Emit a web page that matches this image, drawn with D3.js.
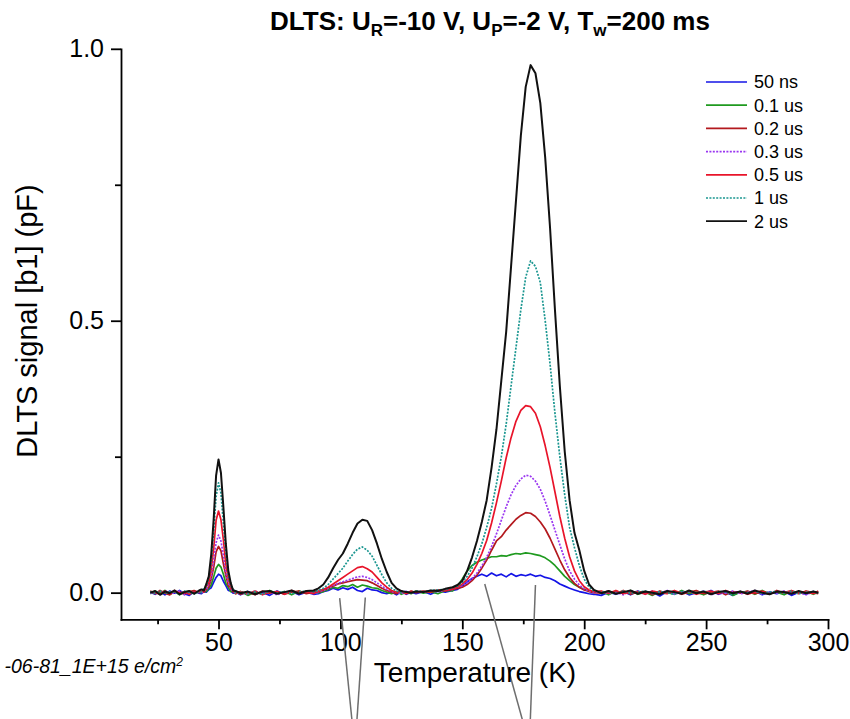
<!DOCTYPE html>
<html>
<head>
<meta charset="utf-8">
<script src="https://cdn.jsdelivr.net/npm/d3@7"></script>
<style>
  body { margin: 0; background: #fff; }
  svg { display: block; font-family: Arial, "Liberation Sans", sans-serif; }
  .axis path, .axis line { stroke: #000; stroke-width: 1.8; }
  .axis text { font-size: 25px; fill: #000; }
</style>
</head>
<body>
<div id="chart"></div>
<script>
// DLTS spectra for different filling pulse widths

const temps = [22,24,26,28,30,32,34,36,38,40,42,
  43,44,45,46,47,48,49,50,51,52,53,54,55,56,57,
  59,62,65,68,71,74,77,80,83,86,89,
  91,93,95,97,99,101,103,105,107,109,111,113,115,117,119,121,123,125,127,129,131,
  134,137,140,143,146,
  148,150,152,154,156,158,160,162,164,166,168,170,172,174,176,178,180,182,184,186,188,190,192,194,196,198,200,202,204,
  207,210,213,216,219,222,225,228,231,234,237,240,243,246,249,252,255,258,261,264,267,270,273,276,279,282,285,288,291,294,296];

const s50ns = [.001,-.003,.002,-.004,.003,-.001,.004,-.002,-.005,.002,-.001,
  -.002,.002,.001,.006,.009,.019,.028,.034,.031,.021,.013,.004,.003,-.001,.001,
  -.004,.002,-.003,.001,-.005,.003,-.002,.002,-.004,.001,-.003,
  -.002,.002,.004,.008,.005,.009,.006,.01,.004,.002,.008,.005,.004,.0,-.002,.001,-.004,.002,-.003,.001,-.002,
  .002,-.003,.003,.001,.004,
  .006,.012,.02,.026,.03,.034,.03,.036,.031,.034,.029,.035,.03,.033,.031,.034,.03,.032,.028,.026,.022,.016,.012,.008,.005,.002,.0,-.002,-.003,
  -.005,.001,-.003,.002,-.004,.003,-.002,.001,-.006,.002,-.001,.003,-.004,.0,-.002,.004,-.003,.001,-.005,.002,-.001,.003,-.004,.001,-.002,.002,-.005,.001,-.003,.002,-.001];

const s01us = [-.002,.003,-.001,.004,-.003,.002,-.004,.001,.003,-.002,.002,
  .0,.003,.002,.008,.014,.029,.045,.052,.047,.034,.017,.01,.002,.003,-.002,
  .002,-.005,.001,-.003,.004,-.002,.002,-.004,.003,-.001,.002,
  .0,.002,.006,.01,.008,.013,.011,.015,.01,.014,.012,.009,.008,.004,.001,-.002,.002,-.003,.001,-.002,.003,
  -.001,.002,-.002,.004,.003,
  .012,.025,.04,.05,.056,.06,.063,.066,.066,.068,.067,.07,.072,.071,.073,.072,.07,.068,.064,.058,.05,.04,.03,.022,.015,.01,.006,.003,.001,
  .002,-.004,.003,-.001,.004,-.003,.001,-.005,.002,.0,-.003,.004,-.002,.001,-.004,.002,-.001,.003,-.005,.001,.002,-.003,.004,-.002,.001,-.004,.003,-.001,.002,-.003,.001];

const s02us = [.003,-.002,.004,-.001,-.004,.002,.001,-.003,.002,.004,.0,
  .002,.001,.006,.01,.025,.046,.075,.085,.077,.053,.032,.013,.007,.001,.002,
  -.003,.001,-.004,.003,-.001,.002,-.003,.001,.003,-.002,.001,
  .001,.004,.008,.012,.016,.018,.02,.022,.024,.023,.022,.018,.013,.008,.004,.001,-.002,.002,-.001,.003,.0,
  .002,.001,.004,.003,.006,
  .008,.01,.015,.022,.032,.045,.06,.078,.095,.103,.115,.125,.135,.142,.147,.146,.14,.13,.117,.1,.08,.06,.042,.028,.017,.01,.005,.002,.0,
  -.001,.003,-.002,.004,-.003,.001,.002,-.004,.003,-.001,.002,-.003,.001,.004,-.002,.0,.003,-.004,.002,-.001,.003,-.002,.001,-.003,.004,-.001,.002,-.002,.003,.0,-.002];

const s03us = [-.001,.002,-.003,.003,.001,-.002,.003,-.004,.001,-.001,.003,
  -.001,.004,.005,.015,.029,.059,.092,.106,.095,.069,.037,.019,.006,.004,-.001,
  .001,-.003,.003,-.002,.002,-.004,.001,.003,-.002,.002,-.001,
  .002,.004,.008,.013,.017,.02,.023,.026,.029,.03,.028,.024,.018,.012,.006,.002,.001,-.002,.003,-.001,.002,
  .001,.003,.002,.005,.006,
  .01,.013,.018,.026,.036,.049,.065,.085,.108,.133,.158,.18,.197,.209,.216,.214,.205,.19,.168,.142,.115,.088,.062,.04,.025,.014,.007,.003,.001,
  .002,-.002,.001,-.004,.003,.0,-.002,.003,-.001,.004,-.003,.001,.002,-.002,.003,-.004,.001,-.001,.003,-.002,.0,.004,-.003,.002,-.001,.003,-.002,.001,-.004,.002,.001];

const s05us = [.002,.0,-.003,.003,-.002,.004,-.001,.002,-.003,.001,.002,
  .003,.002,.011,.018,.043,.081,.133,.15,.134,.097,.052,.027,.009,.006,-.002,
  .002,-.002,.003,-.004,.001,.002,-.003,.004,-.001,.002,-.002,
  .003,.006,.01,.016,.022,.028,.034,.04,.046,.048,.044,.038,.028,.018,.01,.004,.001,.003,-.002,.002,.001,
  .003,.002,.005,.004,.007,
  .01,.016,.024,.036,.052,.072,.096,.128,.165,.205,.248,.285,.315,.335,.344,.342,.33,.305,.27,.23,.185,.14,.1,.066,.04,.022,.011,.005,.002,
  .003,-.001,.004,-.002,.001,.002,-.003,.003,.0,-.002,.004,-.001,.002,-.003,.001,.003,-.002,.004,-.001,.002,-.003,.001,.003,-.002,.002,.0,.004,-.001,.002,-.002,.003];

const s1us = [.002,-.001,.003,-.002,.002,.001,-.003,.003,.0,-.002,.002,
  .001,.008,.011,.028,.055,.112,.176,.202,.183,.127,.074,.033,.012,.007,-.001,
  .001,-.002,.002,-.003,.003,-.001,.002,-.002,.001,.003,.002,
  .004,.008,.015,.025,.035,.045,.058,.07,.08,.084,.078,.067,.05,.033,.018,.008,.003,.001,.002,-.001,.003,
  .002,.004,.005,.006,.009,
  .012,.019,.03,.045,.066,.09,.12,.155,.2,.25,.31,.38,.45,.52,.58,.61,.6,.57,.5,.42,.33,.25,.18,.12,.083,.05,.025,.01,.003,
  .001,.002,-.002,.003,-.001,.001,.003,-.002,.002,.0,-.003,.002,.001,-.001,.003,-.002,.002,.001,-.003,.002,.0,.003,-.002,.001,.002,-.001,.003,-.002,.001,.002,-.001];

const s2us = [.0,.003,-.004,.002,-.001,.004,-.003,.001,.003,-.002,.004,
  .006,.004,.016,.03,.07,.134,.215,.245,.22,.157,.09,.041,.018,.004,.003,
  -.001,.002,-.003,.002,.003,-.002,.001,.004,-.002,.003,.004,
  .008,.015,.028,.045,.06,.072,.09,.11,.127,.134,.132,.115,.09,.062,.038,.018,.008,.003,.001,.0,.002,
  .001,.004,.003,.007,.01,
  .014,.022,.04,.065,.095,.13,.17,.23,.3,.39,.48,.6,.72,.84,.93,.97,.955,.9,.8,.67,.52,.38,.26,.17,.11,.078,.04,.015,.005,
  -.001,.003,-.002,.001,.004,-.002,.002,.0,-.003,.003,.001,-.002,.004,-.001,.002,-.003,.001,.003,-.001,.002,-.002,.004,.0,-.003,.002,.001,-.002,.003,-.001,.002,.0];

const seriesNames = ["50 ns", "0.1 us", "0.2 us", "0.3 us", "0.5 us", "1 us", "2 us"];
const seriesValues = [s50ns, s01us, s02us, s03us, s05us, s1us, s2us];
const seriesColors = ["#1414e6", "#1f9a1f", "#b3191e", "#9a36f0", "#e8142a", "#1a9690", "#111111"];
const seriesDash = [null, null, null, "2,1.4", null, "2,1.4", null];

const xMajor = [50, 100, 150, 200, 250, 300];
const xMinor = [25, 75, 125, 175, 225, 275];
const yMajor = [0, 0.5, 1.0];
const yMinor = [0.25, 0.75];

// grey pointer lines under the peaks (top point, bottom point) in data units
const pointerTops = [[99.7, -0.010], [110.2, -0.009], [159.2, 0.016], [180.0, 0.014]];
const pointerEnds = [[104.7, -0.233], [106.8, -0.233], [174.6, -0.233], [177.9, -0.233]];

const W = 850, H = 719;

const svg = d3.select("#chart").append("svg")
  .attr("width", W)
  .attr("height", H);

const x = d3.scaleLinear().domain([10, 300]).range([121, 828]);
const y = d3.scaleLinear().domain([-0.049, 1.0]).range([619.3, 48.8]);

// axes
svg.append("g")
  .attr("class", "axis x-axis")
  .attr("transform", `translate(0,${y.range()[0]})`)
  .call(d3.axisBottom(x).tickValues(xMajor).tickSize(10).tickSizeOuter(0).tickPadding(4).tickFormat(d3.format("d")));

svg.append("g")
  .attr("class", "axis x-minor")
  .attr("transform", `translate(0,${y.range()[0]})`)
  .call(d3.axisBottom(x).tickValues(xMinor).tickSize(5).tickFormat(""))
  .call(g => g.select(".domain").remove());

svg.append("g")
  .attr("class", "axis y-axis")
  .attr("transform", `translate(${x.range()[0]},0)`)
  .call(d3.axisLeft(y).tickValues(yMajor).tickSize(10).tickSizeOuter(0).tickPadding(7).tickFormat(d3.format(".1f")));

svg.append("g")
  .attr("class", "axis y-minor")
  .attr("transform", `translate(${x.range()[0]},0)`)
  .call(d3.axisLeft(y).tickValues(yMinor).tickSize(6).tickFormat(""))
  .call(g => g.select(".domain").remove());

svg.selectAll(".axis .domain").attr("stroke-linecap", "square");

// curves
const line = d3.line()
  .x(d => x(d.t))
  .y(d => y(d.v));

const series = seriesNames.map((name, i) => ({
  name: name,
  color: seriesColors[i],
  dash: seriesDash[i],
  points: temps.map((t, j) => ({ t: t, v: seriesValues[i][j] }))
}));

svg.append("g")
  .selectAll("path")
  .data(series)
  .join("path")
  .attr("fill", "none")
  .attr("stroke", d => d.color)
  .attr("stroke-width", d => d.name === "2 us" ? 2 : 1.7)
  .attr("stroke-dasharray", d => d.dash)
  .attr("stroke-linejoin", "round")
  .attr("d", d => line(d.points));

// grey pointer lines
svg.append("g")
  .selectAll("line")
  .data(pointerTops)
  .join("line")
  .attr("x1", d => x(d[0]))
  .attr("y1", d => y(d[1]))
  .attr("x2", (d, i) => x(pointerEnds[i][0]))
  .attr("y2", (d, i) => y(pointerEnds[i][1]))
  .attr("stroke", "#6e6e6e")
  .attr("stroke-width", 1.5);

// legend
const legend = svg.append("g").attr("transform", "translate(706,82)");
const row = legend.selectAll("g")
  .data(series)
  .join("g")
  .attr("transform", (d, i) => `translate(0,${i * 23.2})`);
row.append("line")
  .attr("x1", 0).attr("x2", 41)
  .attr("stroke", d => d.color)
  .attr("stroke-width", 1.7)
  .attr("stroke-dasharray", d => d.dash);
row.append("text")
  .attr("x", 48)
  .attr("dy", "0.35em")
  .attr("font-size", 18)
  .text(d => d.name);

// title
const title = svg.append("text")
  .attr("x", 490)
  .attr("y", 30)
  .attr("text-anchor", "middle")
  .attr("font-size", 26)
  .attr("font-weight", "bold");
title.append("tspan").text("DLTS: U");
title.append("tspan").attr("dy", 6).attr("font-size", 17).text("R");
title.append("tspan").attr("dy", -6).text("=-10 V, U");
title.append("tspan").attr("dy", 6).attr("font-size", 17).text("P");
title.append("tspan").attr("dy", -6).text("=-2 V, T");
title.append("tspan").attr("dy", 6).attr("font-size", 17).text("w");
title.append("tspan").attr("dy", -6).text("=200 ms");

// axis labels
svg.append("text")
  .attr("transform", "rotate(-90)")
  .attr("x", -321)
  .attr("y", 37)
  .attr("text-anchor", "middle")
  .attr("font-size", 29)
  .text("DLTS signal [b1] (pF)");

svg.append("text")
  .attr("x", 475)
  .attr("y", 682)
  .attr("text-anchor", "middle")
  .attr("font-size", 28)
  .text("Temperature (K)");

// sample note, cut at the left edge
const note = svg.append("text")
  .attr("x", 183)
  .attr("y", 673)
  .attr("text-anchor", "end")
  .attr("font-size", 19.5)
  .attr("font-style", "italic");
note.append("tspan").text("-06-81_1E+15 e/cm");
note.append("tspan").attr("dy", -7).attr("font-size", 12).text("2");
</script>
</body>
</html>
